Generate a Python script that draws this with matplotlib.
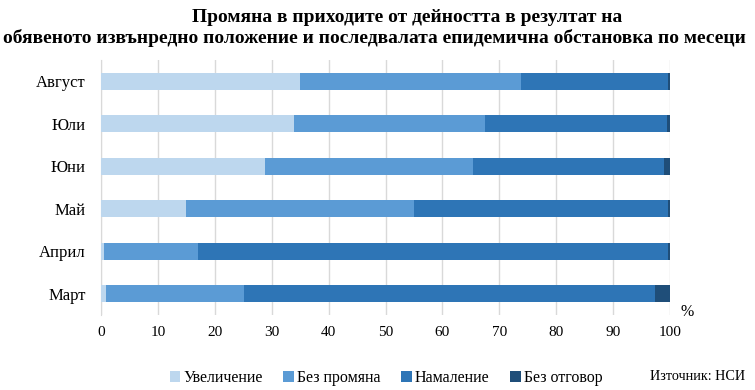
import numpy as np
import matplotlib.pyplot as plt

plt.rcParams.update({'font.family': 'Liberation Serif', 'font.size': 11.5})

months = ['Март', 'Април', 'Май', 'Юни', 'Юли', 'Август']
increase = [0.8, 0.5, 14.9, 28.9, 34.0, 34.9]
no_change = [24.3, 16.5, 40.1, 36.5, 33.5, 38.9]
decrease = [72.2, 82.6, 44.6, 33.5, 32.0, 25.8]
no_answer = [2.7, 0.4, 0.4, 1.1, 0.5, 0.4]

labels = ['Увеличение', 'Без промяна', 'Намаление', 'Без отговор']
colors = ['#BDD7EE', '#5B9BD5', '#2E75B6', '#1F4E79']

W, H = 755, 390
fig = plt.figure(figsize=(W / 100, H / 100), dpi=100)
ax = fig.add_axes([101 / W, 1 - 315 / H, 569 / W, 255 / H])

y = np.arange(len(months))
left = np.zeros(len(months))
for vals, lab, col in zip([increase, no_change, decrease, no_answer], labels, colors):
    ax.barh(y, vals, left=left, height=0.41, color=col, label=lab, zorder=3)
    left += np.array(vals)

ax.set_xlim(0, 100)
ax.set_ylim(-0.5, 5.5)
ax.set_yticks(y)
ax.set_yticklabels(months, fontsize=12)
ax.set_xticks(np.arange(0, 101, 10))
ax.xaxis.grid(True, color='#D9D9D9', linewidth=1, zorder=0)
for s in ['top', 'right', 'bottom']:
    ax.spines[s].set_visible(False)
ax.spines['left'].set_color('#D9D9D9')
ax.tick_params(axis='y', length=0, pad=11)
ax.tick_params(axis='x', length=0, pad=8, labelsize=11)

ax.text(1.018, 0.01, '%', transform=ax.transAxes, fontsize=11.5, va='center')

fig.text(407 / W, 1 - 22 / H, 'Промяна в приходите от дейността в резултат на',
         ha='center', va='baseline', fontsize=14, fontweight='bold')
fig.text(374 / W, 1 - 43 / H,
         'обявеното извънредно положение и последвалата епидемична обстановка по месеци',
         ha='center', va='baseline', fontsize=14, fontweight='bold')

fig.legend(loc='center', bbox_to_anchor=(386 / W, 1 - 378 / H), ncol=4, frameon=False,
           handlelength=0.65, handleheight=0.65, handletextpad=0.2, columnspacing=1.3,
           fontsize=11.5)
fig.text(745 / W, 1 - 377 / H, 'Източник: НСИ', ha='right', va='center', fontsize=10.2)

plt.savefig('out.png', dpi=100)
